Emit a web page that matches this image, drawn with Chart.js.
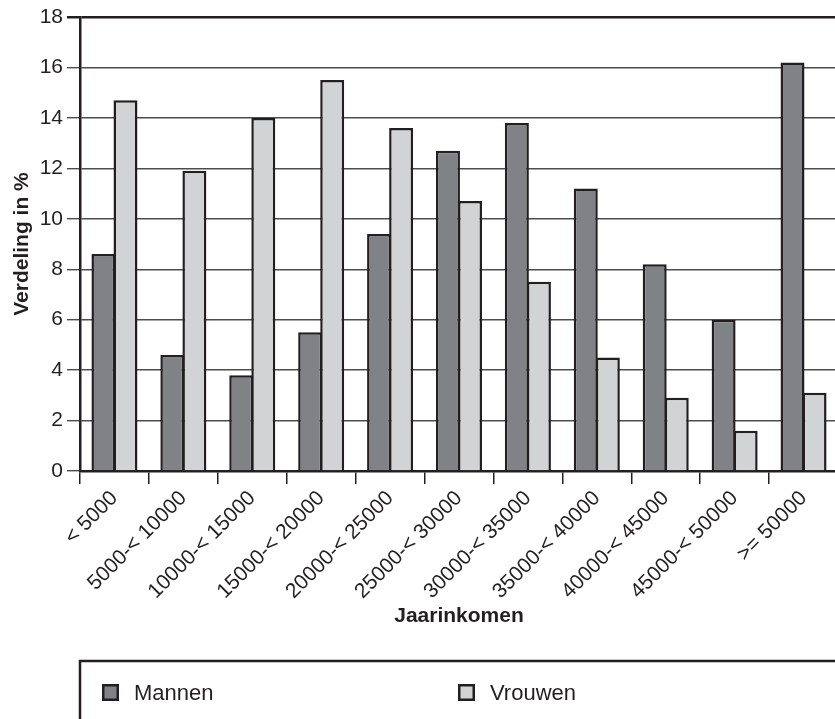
<!DOCTYPE html>
<html>
<head>
<meta charset="utf-8">
<script src="https://cdn.jsdelivr.net/npm/chart.js@4/dist/chart.umd.min.js"></script>
<style>
  html, body { margin: 0; padding: 0; background: #ffffff; overflow: hidden; width: 835px; height: 719px; }
  canvas { display: block; }
</style>
</head>
<body>
<canvas id="c" width="845" height="740"></canvas>
<script>
// Income brackets (euro per year)
const categories = ['< 5000', '5000-< 10000', '10000-< 15000', '15000-< 20000', '20000-< 25000',
  '25000-< 30000', '30000-< 35000', '35000-< 40000', '40000-< 45000', '45000-< 50000', '>= 50000'];
// Share of each group per bracket, in %
const mannen = [8.6, 4.6, 3.8, 5.5, 9.4, 12.7, 13.8, 11.2, 8.2, 6.0, 16.2];
const vrouwen = [14.7, 11.9, 14.0, 15.5, 13.6, 10.7, 7.5, 4.5, 2.9, 1.6, 3.1];
const seriesNames = ['Mannen', 'Vrouwen'];
const yTicks = [0, 2, 4, 6, 8, 10, 12, 14, 16, 18];

const INK = '#231f20';
const FONT = "'Liberation Sans', Arial, Helvetica, sans-serif";

// Boxed legend along the bottom, drawn from the dataset labels and colours
const boxedLegend = {
  id: 'boxedLegend',
  afterDraw(chart) {
    const ctx = chart.ctx;
    const top = 661;
    ctx.save();
    ctx.strokeStyle = INK;
    ctx.lineWidth = 2.5;
    ctx.beginPath();
    ctx.moveTo(80, chart.height + 5);
    ctx.lineTo(80, top);
    ctx.lineTo(chart.width + 5, top);
    ctx.stroke();

    const xs = [102, 458];
    const cy = 692.5;
    chart.data.datasets.forEach((ds, i) => {
      const x = xs[i];
      ctx.fillStyle = INK;
      ctx.fillRect(x, cy - 8.5, 17, 17);
      ctx.fillStyle = ds.backgroundColor;
      ctx.fillRect(x + 2.5, cy - 6, 12, 12);
      ctx.fillStyle = INK;
      ctx.font = '22px ' + FONT;
      ctx.textBaseline = 'middle';
      ctx.textAlign = 'left';
      ctx.fillText(ds.label, x + 32, cy + 1);
    });
    ctx.restore();
  }
};

new Chart(document.getElementById('c'), {
  type: 'bar',
  data: {
    labels: categories,
    datasets: [
      {
        label: seriesNames[0],
        data: mannen,
        backgroundColor: '#808285',
        borderColor: INK,
        borderWidth: 2.5,
        borderSkipped: 'start'
      },
      {
        label: seriesNames[1],
        data: vrouwen,
        backgroundColor: '#d1d3d4',
        borderColor: INK,
        borderWidth: 2.5,
        borderSkipped: 'start'
      }
    ]
  },
  options: {
    responsive: false,
    animation: false,
    devicePixelRatio: 1,
    categoryPercentage: 0.64,
    barPercentage: 1.087,
    layout: { padding: { top: 17, right: 7, bottom: 111, left: 0 } },
    plugins: {
      legend: { display: false },
      tooltip: { enabled: false },
      title: { display: false }
    },
    scales: {
      x: {
        grid: {
          offset: true,
          drawOnChartArea: false,
          drawTicks: true,
          tickLength: 13,
          color: INK,
          lineWidth: 1.5
        },
        border: { color: INK, width: 2.5 },
        ticks: {
          color: INK,
          font: { family: FONT, size: 21 },
          minRotation: 45,
          maxRotation: 45,
          autoSkip: false,
          padding: 2
        },
        title: {
          display: true,
          text: 'Jaarinkomen',
          color: INK,
          font: { family: FONT, size: 21, weight: 'bold' },
          padding: { top: 0, bottom: 0 }
        },
        afterFit(scale) { scale.height = 740 - 111 - 471; }
      },
      y: {
        min: 0,
        max: 18,
        afterBuildTicks(scale) { scale.ticks = yTicks.map(v => ({ value: v })); },
        grid: {
          drawTicks: true,
          tickLength: 13,
          color: ctx => (ctx.tick && ctx.tick.value === 18) ? INK : '#4d4d4f',
          lineWidth: ctx => (ctx.tick && ctx.tick.value === 18) ? 2.5 : 1.4
        },
        border: { color: INK, width: 2.5 },
        ticks: {
          color: INK,
          font: { family: FONT, size: 21 },
          padding: 4
        },
        title: {
          display: true,
          text: 'Verdeling in %',
          color: INK,
          font: { family: FONT, size: 21, weight: 'bold' },
          padding: { top: 10, bottom: 0 }
        },
        afterFit(scale) { scale.width = 80; }
      }
    }
  },
  plugins: [boxedLegend]
});
</script>
</body>
</html>
